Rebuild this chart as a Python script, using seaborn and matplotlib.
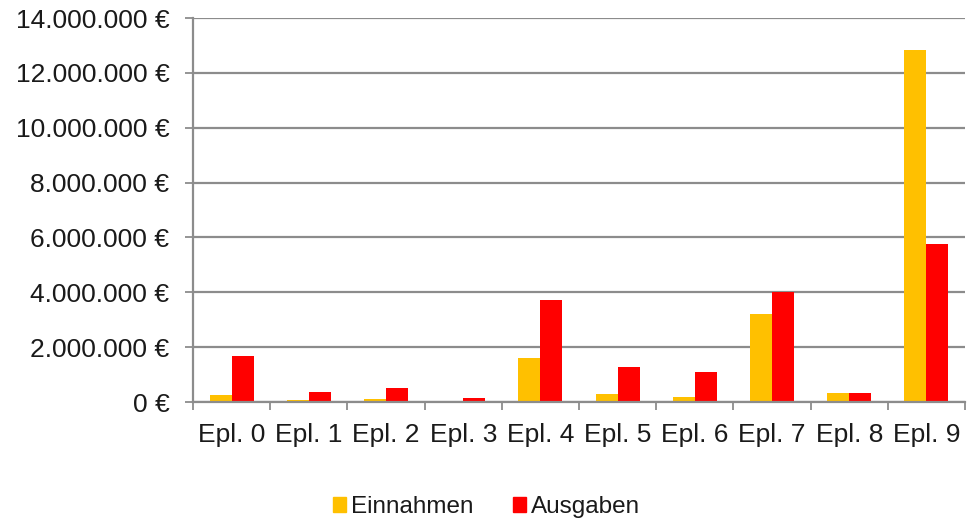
import matplotlib
matplotlib.use("Agg")
import matplotlib.pyplot as plt
import matplotlib.ticker as mticker
import seaborn as sns
import pandas as pd
import numpy as np

categories = ["Epl. 0", "Epl. 1", "Epl. 2", "Epl. 3", "Epl. 4",
              "Epl. 5", "Epl. 6", "Epl. 7", "Epl. 8", "Epl. 9"]
einnahmen = [245000, 90000, 110000, 0, 1600000,
             290000, 180000, 3200000, 330000, 12840000]
ausgaben = [1670000, 350000, 520000, 150000, 3710000,
            1270000, 1090000, 4000000, 320000, 5770000]
series = ["Einnahmen", "Ausgaben"]
colors = ["#FFC000", "#FF0000"]

df = pd.DataFrame({
    "Kategorie": categories * 2,
    "Serie": [series[0]] * len(categories) + [series[1]] * len(categories),
    "Wert": einnahmen + ausgaben,
})

sns.set_style("white")
plt.rcParams["font.family"] = ["Liberation Sans", "DejaVu Sans"]

fig = plt.figure(figsize=(9.67, 5.2), dpi=100)
ax = fig.add_axes([193 / 967, 1 - 402 / 520, (965 - 193) / 967, (402 - 18) / 520])

sns.barplot(data=df, x="Kategorie", y="Wert", hue="Serie", palette=colors,
            width=0.57, gap=0, ax=ax, legend=False, linewidth=0, saturation=1)

grid_c = "#8c8c8c"
ax.set_ylim(0, 14000000)
ax.set_xlim(-0.5, len(categories) - 0.5)
ax.yaxis.set_major_locator(mticker.MultipleLocator(2000000))
ax.yaxis.set_major_formatter(mticker.FuncFormatter(
    lambda v, p: f"{int(v):,}".replace(",", ".") + " €"))
ax.grid(axis="y", color=grid_c, linewidth=1.6)
ax.set_axisbelow(True)
for s in ["top", "right"]:
    ax.spines[s].set_visible(False)
for s in ["left", "bottom"]:
    ax.spines[s].set_color(grid_c)
    ax.spines[s].set_linewidth(1.6)
ax.set_xlabel("")
ax.set_ylabel("")
ax.tick_params(axis="y", direction="out", length=6, width=1.3, color=grid_c,
               labelsize=19, labelcolor="#1a1a1a", pad=11, left=True)
ax.tick_params(axis="x", which="major", length=0, labelsize=19,
               labelcolor="#1a1a1a", pad=15)
ax.set_xticks(np.arange(-0.5, len(categories)), minor=True)
ax.tick_params(axis="x", which="minor", direction="out", length=6, width=1.3,
               color=grid_c, bottom=True)

handles = [plt.Rectangle((0, 0), 1, 1, color=c) for c in colors]
fig.legend(handles, series, loc="center", bbox_to_anchor=(0.503, 1 - 507 / 520),
           ncol=2, frameon=False, fontsize=17.5, handlelength=0.55,
           handleheight=0.55, handletextpad=0.2, columnspacing=1.6,
           labelcolor="#1a1a1a")

fig.savefig("out.png", dpi=100)
